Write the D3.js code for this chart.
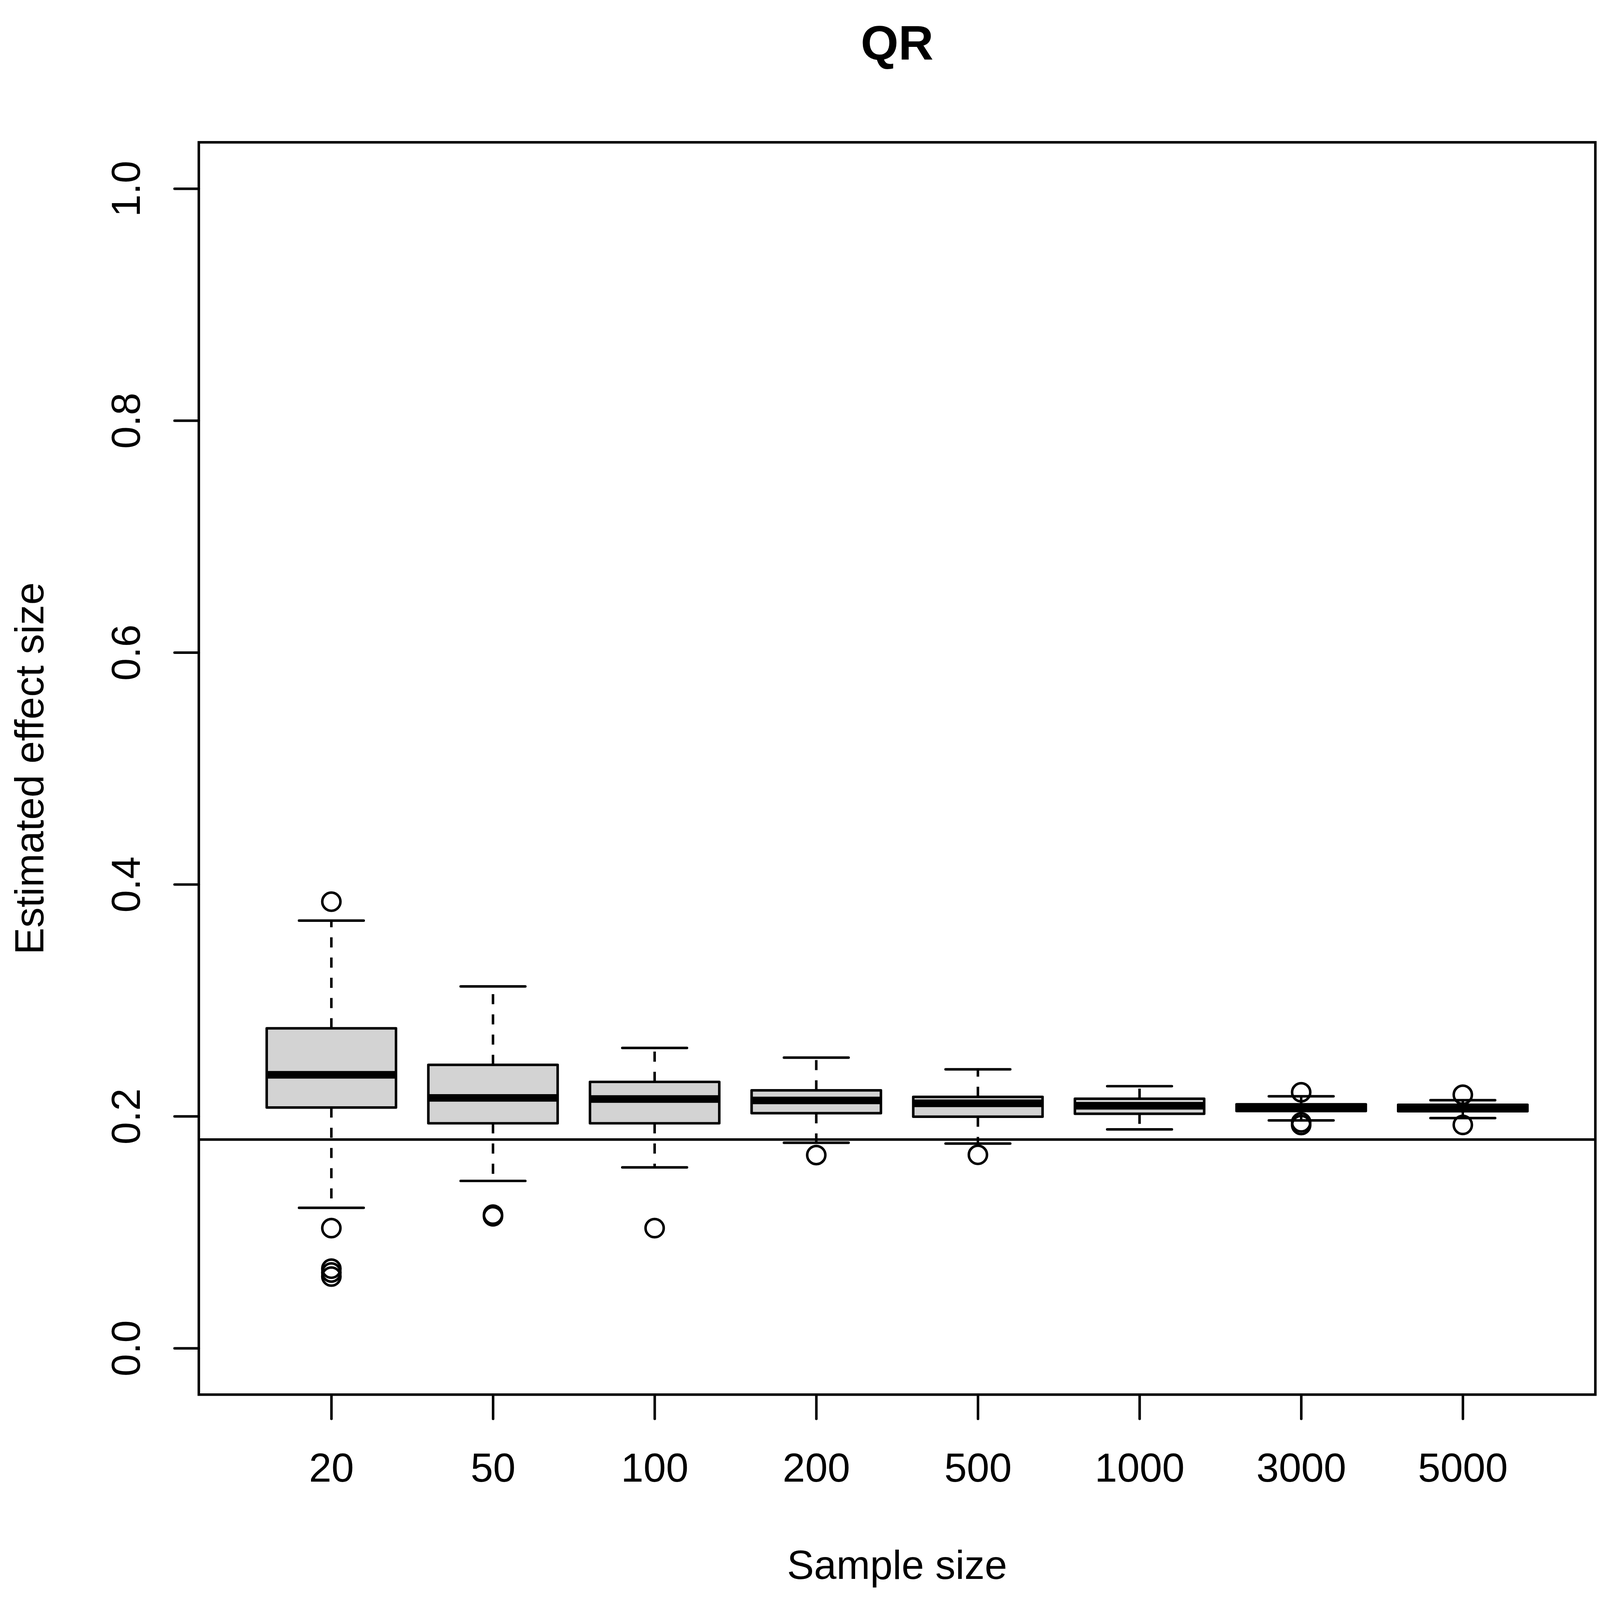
<!DOCTYPE html>
<html>
<head>
<meta charset="utf-8">
<script src="https://cdn.jsdelivr.net/npm/d3@7"></script>
<style>
  html, body { margin: 0; padding: 0; background: #fff; overflow: hidden; }
  svg { display: block; width: 100vw; height: 100vh; }
  text { font-family: "Liberation Sans", Arial, Helvetica, sans-serif; fill: #000; }
</style>
</head>
<body>
<svg id="chart"></svg>
<script>
// sample sizes on the x axis
const sampleSizes = ["20", "50", "100", "200", "500", "1000", "3000", "5000"];

// boxplot stats, one value per sample size
const whiskerLow  = [0.1211, 0.1443, 0.1560, 0.1772, 0.1765, 0.1887, 0.1965, 0.1985];
const q1          = [0.2076, 0.1940, 0.1940, 0.2027, 0.1997, 0.2022, 0.2046, 0.2044];
const medians     = [0.2358, 0.2159, 0.2149, 0.2137, 0.2112, 0.2091, 0.2074, 0.2072];
const q3          = [0.2759, 0.2444, 0.2297, 0.2224, 0.2168, 0.2152, 0.2104, 0.2100];
const whiskerHigh = [0.3688, 0.3120, 0.2590, 0.2506, 0.2405, 0.2260, 0.2173, 0.2139];
const outliers = [
  [0.3851, 0.1036, 0.0686, 0.0653, 0.0618],
  [0.1152, 0.1138],
  [0.1036],
  [0.1666],
  [0.1668],
  [],
  [0.2207, 0.1948, 0.1925],
  [0.2186, 0.1926]
];

const yTicks = [0, 0.2, 0.4, 0.6, 0.8, 1.0];
const trueEffect = 0.18;

const W = 7919, H = 7915;
const plotLeft = 984, plotRight = 7896, plotTop = 704, plotBottom = 6899;
const lwd = 12.5;          // R lwd = 1 at 1200 dpi
const fontSize = 200;
const boxwex = 0.8;

const svg = d3.select("#chart")
  .attr("viewBox", `0 0 ${W} ${H}`)
  .attr("preserveAspectRatio", "none");

const x = d3.scaleLinear().domain([0.18, 8.82]).range([plotLeft, plotRight]);
const y = d3.scaleLinear().domain([-0.04, 1.04]).range([plotBottom, plotTop]);

const boxes = sampleSizes.map((s, i) => ({
  pos: i + 1, label: s,
  lo: whiskerLow[i], q1: q1[i], med: medians[i], q3: q3[i], hi: whiskerHigh[i],
  out: outliers[i]
}));

const g = svg.append("g");

// whiskers, dashed, from the box edge outward
boxes.forEach(b => {
  [[b.q1, b.lo], [b.q3, b.hi]].forEach(([from, to]) => {
    g.append("line")
      .attr("x1", x(b.pos)).attr("x2", x(b.pos))
      .attr("y1", y(from)).attr("y2", y(to))
      .attr("stroke", "#000").attr("stroke-width", lwd)
      .attr("stroke-dasharray", "50,50");
  });
  [b.lo, b.hi].forEach(v => {
    g.append("line")
      .attr("x1", x(b.pos - boxwex / 4)).attr("x2", x(b.pos + boxwex / 4))
      .attr("y1", y(v)).attr("y2", y(v))
      .attr("stroke", "#000").attr("stroke-width", lwd)
      .attr("stroke-linecap", "round");
  });
});

// boxes
g.selectAll("rect.box").data(boxes).join("rect")
  .attr("class", "box")
  .attr("x", d => x(d.pos - boxwex / 2))
  .attr("width", d => x(d.pos + boxwex / 2) - x(d.pos - boxwex / 2))
  .attr("y", d => y(d.q3))
  .attr("height", d => y(d.q1) - y(d.q3))
  .attr("fill", "#d3d3d3")
  .attr("stroke", "#000").attr("stroke-width", lwd)
  .attr("stroke-linejoin", "round");

// medians
g.selectAll("line.med").data(boxes).join("line")
  .attr("class", "med")
  .attr("x1", d => x(d.pos - boxwex / 2)).attr("x2", d => x(d.pos + boxwex / 2))
  .attr("y1", d => y(d.med)).attr("y2", d => y(d.med))
  .attr("stroke", "#000").attr("stroke-width", lwd * 3);

// outliers
boxes.forEach(b => {
  g.selectAll(null).data(b.out).join("circle")
    .attr("cx", x(b.pos)).attr("cy", d => y(d))
    .attr("r", 45)
    .attr("fill", "none")
    .attr("stroke", "#000").attr("stroke-width", lwd);
});

// horizontal reference line
svg.append("line")
  .attr("x1", plotLeft).attr("x2", plotRight)
  .attr("y1", y(trueEffect)).attr("y2", y(trueEffect))
  .attr("stroke", "#000").attr("stroke-width", lwd);

// x axis
const xAxis = svg.append("g")
  .attr("transform", `translate(0,${plotBottom})`)
  .call(d3.axisBottom(x).tickValues(boxes.map(b => b.pos))
    .tickFormat(d => sampleSizes[d - 1]).tickSize(120).tickSizeOuter(0));
xAxis.select(".domain").remove();
xAxis.selectAll(".tick line").attr("stroke-width", lwd).attr("stroke-linecap", "round");
xAxis.selectAll(".tick text")
  .attr("y", 7330 - plotBottom).attr("dy", null)
  .attr("font-size", fontSize);
xAxis.attr("font-family", null).attr("font-size", null);

// y axis
const yAxis = svg.append("g")
  .attr("transform", `translate(${plotLeft},0)`)
  .call(d3.axisLeft(y).tickValues(yTicks).tickFormat(d3.format(".1f"))
    .tickSize(120).tickSizeOuter(0));
yAxis.select(".domain").remove();
yAxis.selectAll(".tick line").attr("stroke-width", lwd).attr("stroke-linecap", "round");
yAxis.selectAll(".tick text")
  .attr("x", 0).attr("y", 0).attr("dy", null)
  .attr("text-anchor", "middle")
  .attr("transform", `translate(${693 - plotLeft},0) rotate(-90)`)
  .attr("font-size", fontSize);
yAxis.attr("font-family", null).attr("font-size", null);

// plot frame
svg.append("rect")
  .attr("x", plotLeft).attr("y", plotTop)
  .attr("width", plotRight - plotLeft).attr("height", plotBottom - plotTop)
  .attr("fill", "none").attr("stroke", "#000").attr("stroke-width", lwd);

// titles
svg.append("text")
  .attr("x", (plotLeft + plotRight) / 2).attr("y", 295)
  .attr("text-anchor", "middle")
  .attr("font-size", fontSize * 1.2).attr("font-weight", "bold")
  .text("QR");

svg.append("text")
  .attr("x", (plotLeft + plotRight) / 2).attr("y", 7811)
  .attr("text-anchor", "middle")
  .attr("font-size", fontSize)
  .text("Sample size");

svg.append("text")
  .attr("transform", `translate(215,${(plotTop + plotBottom) / 2}) rotate(-90)`)
  .attr("text-anchor", "middle")
  .attr("font-size", fontSize)
  .text("Estimated effect size");
</script>
</body>
</html>
